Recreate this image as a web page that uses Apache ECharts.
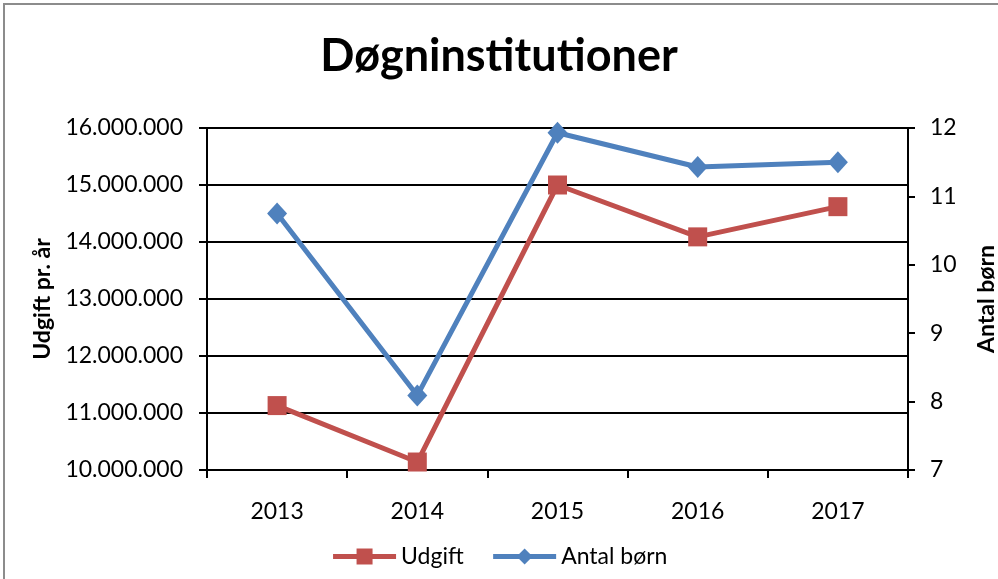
<!DOCTYPE html>
<html>
<head>
<meta charset="utf-8">
<script src="https://cdn.jsdelivr.net/npm/echarts@6/dist/echarts.min.js"></script>
<style>
  html, body { margin: 0; padding: 0; background: #fff; }
  #chart { width: 998px; height: 579px; }
</style>
</head>
<body>
<div id="chart"></div>
<script>
const years = ['2013', '2014', '2015', '2016', '2017'];
const udgift = [11130000, 10140000, 15000000, 14090000, 14620000];
const antalBorn = [10.75, 8.09, 11.93, 11.43, 11.5];

const chart = echarts.init(document.getElementById('chart'));
const font = 'Lato, "Noto Sans", sans-serif';

function fmtDots(v) {
  return String(v).replace(/\B(?=(\d{3})+(?!\d))/g, '.');
}

var option = {
  color: ['#C0504D', '#4F81BD'],
  textStyle: { fontFamily: font },
  graphic: [{
    type: 'rect',
    shape: { x: 4, y: 4, width: 1100, height: 700 },
    style: { fill: 'none', stroke: '#8c8c8c', lineWidth: 2 }
  }],
  title: {
    text: 'Døgninstitutioner',
    left: 'center',
    top: 29,
    textStyle: { fontFamily: font, fontSize: 45, fontWeight: 'bold', color: '#000' }
  },
  grid: { left: 207, right: 90, top: 128, bottom: 109, outerBoundsMode: 'none' },
  legend: {
    bottom: 6,
    left: 'center',
    itemWidth: 63,
    itemHeight: 20,
    itemGap: 27,
    lineStyle: { width: 5 },
    textStyle: { fontFamily: font, fontSize: 23, color: '#000' },
    data: ['Udgift', 'Antal børn']
  },
  xAxis: {
    type: 'category',
    data: years,
    boundaryGap: true,
    axisLine: { lineStyle: { color: '#000', width: 2 } },
    axisTick: { show: true, length: 8, lineStyle: { color: '#000', width: 2 } },
    axisLabel: { color: '#000', fontSize: 23, margin: 30, fontFamily: font }
  },
  yAxis: [{
    type: 'value',
    min: 10000000,
    max: 16000000,
    interval: 1000000,
    name: 'Udgift pr. år',
    nameLocation: 'middle',
    nameGap: 153,
    nameRotate: 90,
    nameTextStyle: { fontFamily: font, fontSize: 23, fontWeight: 'bold', color: '#000' },
    axisLine: { show: true, lineStyle: { color: '#000', width: 2 } },
    axisTick: { show: true, length: 8, lineStyle: { color: '#000', width: 2 } },
    axisLabel: { color: '#000', fontSize: 23, margin: 24, fontFamily: font, formatter: fmtDots },
    splitLine: { show: true, lineStyle: { color: '#000', width: 2 } }
  }, {
    type: 'value',
    min: 7,
    max: 12,
    interval: 1,
    position: 'right',
    name: 'Antal børn',
    nameLocation: 'middle',
    nameGap: 67,
    nameRotate: 90,
    nameTextStyle: { fontFamily: font, fontSize: 23, fontWeight: 'bold', color: '#000' },
    axisLine: { show: true, lineStyle: { color: '#000', width: 2 } },
    axisTick: { show: true, length: 7, lineStyle: { color: '#000', width: 2 } },
    axisLabel: { color: '#000', fontSize: 23, margin: 22, fontFamily: font },
    splitLine: { show: false }
  }],
  series: [{
    name: 'Udgift',
    type: 'line',
    yAxisIndex: 0,
    data: udgift,
    symbol: 'rect',
    symbolSize: 19,
    lineStyle: { width: 5 },
    itemStyle: { color: '#C0504D' }
  }, {
    name: 'Antal børn',
    type: 'line',
    yAxisIndex: 1,
    data: antalBorn,
    symbol: 'diamond',
    symbolSize: [20, 22],
    lineStyle: { width: 5 },
    itemStyle: { color: '#4F81BD' }
  }]
};

chart.setOption(option);
</script>
</body>
</html>
